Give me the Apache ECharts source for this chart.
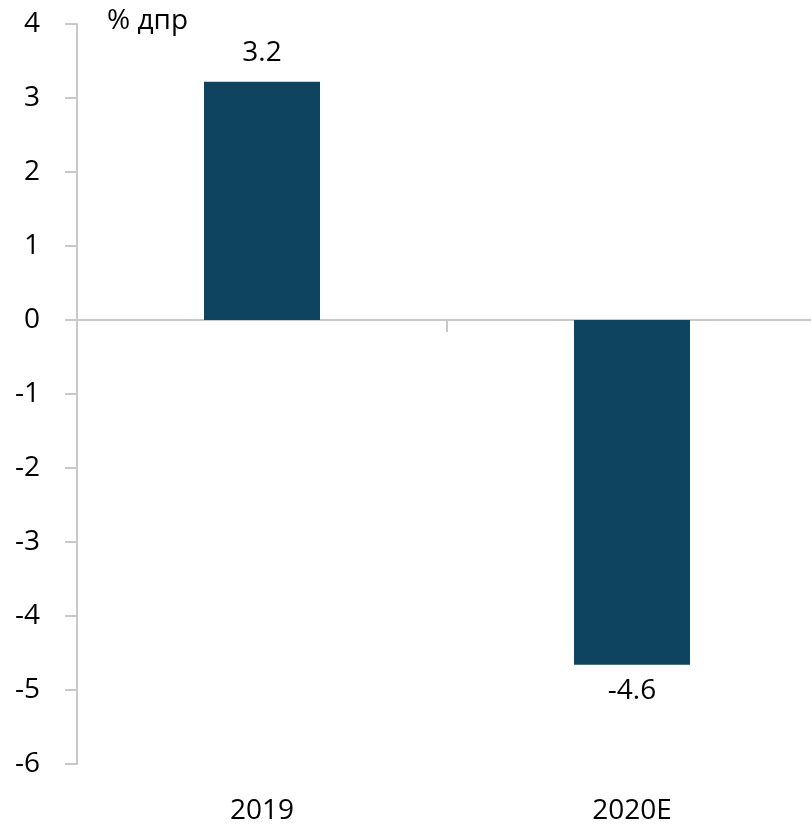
<!DOCTYPE html>
<html><head><meta charset="utf-8">
<script src="https://cdn.jsdelivr.net/npm/echarts@6/dist/echarts.min.js"></script>
<style>html,body{margin:0;padding:0;background:#fff}#c{width:811px;height:826px}</style>
</head><body><div id="c"></div>
<script>
const categories = ['2019', '2020E'];
const values = [3.22, -4.66];
const labels = ['3.2', '-4.6'];
const yTicks = { min: -6, max: 4, interval: 1 };
const unitLabel = '% дпр';

const FONT = 'Open Sans';
const FS = 28;
const axisColor = '#c8c8c8';
const chart = echarts.init(document.getElementById('c'));
chart.setOption({
  animation: false,
  textStyle: { fontFamily: FONT },
  grid: { left: 77, width: 740, top: 24, bottom: 62, containLabel: false, outerBoundsMode: 'none' },
  graphic: [{ type: 'text', left: 107, top: 7, style: { text: unitLabel, fontFamily: FONT, fontSize: FS, fill: '#000' } }],
  xAxis: [{
    type: 'category', data: categories,
    axisLine: { onZero: true, lineStyle: { color: axisColor, width: 2 } },
    axisTick: { show: true, length: 12, lineStyle: { color: axisColor, width: 2 } },
    axisLabel: { show: false }
  }, {
    type: 'category', data: categories, position: 'bottom',
    axisLine: { show: false, onZero: false }, axisTick: { show: false },
    axisLabel: { show: true, color: '#000', fontSize: FS, fontFamily: FONT, margin: 33 }
  }],
  yAxis: {
    type: 'value', min: yTicks.min, max: yTicks.max, interval: yTicks.interval,
    splitLine: { show: false },
    axisLine: { show: true, lineStyle: { color: axisColor, width: 2 } },
    axisTick: { show: true, length: 12, lineStyle: { color: axisColor, width: 2 } },
    axisLabel: { color: '#000', fontSize: FS, fontFamily: FONT, margin: 37 }
  },
  series: [{
    type: 'bar', xAxisIndex: 0, barWidth: 116,
    itemStyle: { color: '#0e4460' },
    data: values.map((v, i) => ({
      value: v,
      label: { show: true, position: v >= 0 ? 'top' : 'bottom', distance: v >= 0 ? 15 : 12,
        formatter: labels[i], color: '#000', fontSize: FS, fontFamily: FONT }
    }))
  }]
});
</script></body></html>
